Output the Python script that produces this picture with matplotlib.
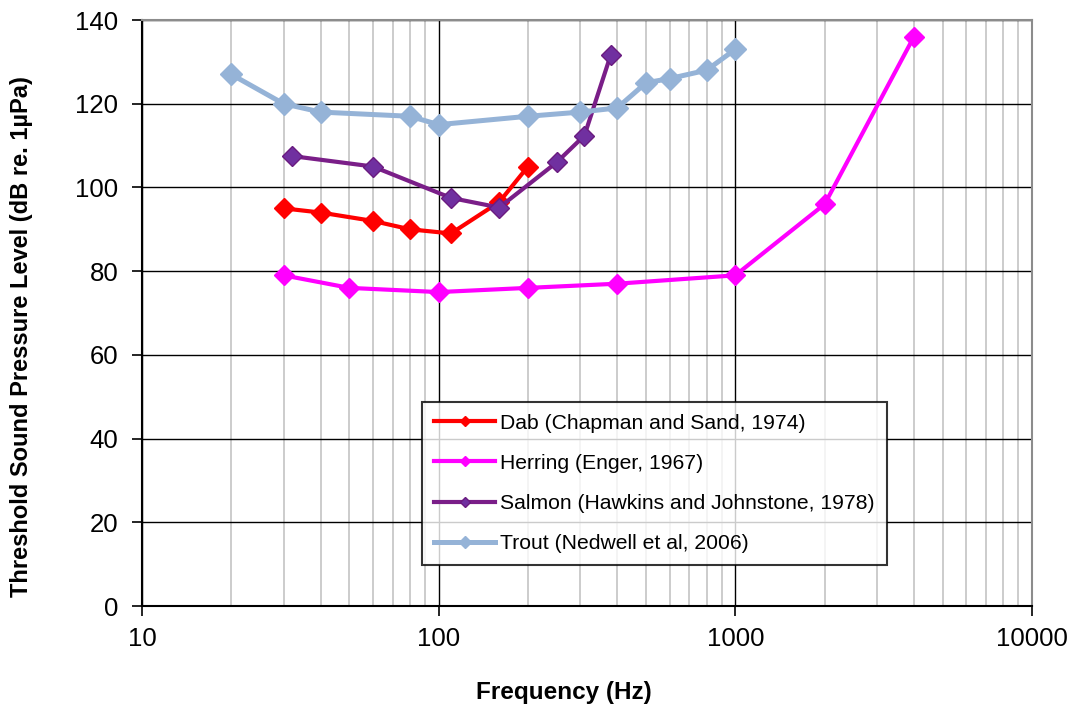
import matplotlib.pyplot as plt
import numpy as np
from matplotlib.ticker import NullFormatter, LogLocator

plt.rcParams['font.family'] = ['Liberation Sans', 'DejaVu Sans']

# data
dab_f = [30, 40, 60, 80, 110, 160, 200]
dab_db = [95, 94, 92, 90, 89, 96.5, 105]

herring_f = [30, 50, 100, 200, 400, 1000, 2000, 4000]
herring_db = [79, 76, 75, 76, 77, 79, 96, 136]

salmon_f = [32, 60, 110, 160, 250, 310, 380]
salmon_db = [107.5, 105, 97.5, 95.2, 106, 112.4, 131.6]

trout_f = [20, 30, 40, 80, 100, 200, 300, 400, 500, 600, 800, 1000]
trout_db = [127, 120, 118, 117, 115, 117, 118, 119, 125, 126, 128, 133]

fig = plt.figure(figsize=(10.72, 7.11), dpi=100)
ax = fig.add_axes([142/1072, 1 - 606/711, (1032 - 142)/1072, (606 - 20)/711])

ax.plot(dab_f, dab_db, color='#FF0000', lw=3, marker='D', ms=10,
        label='Dab (Chapman and Sand, 1974)')
ax.plot(herring_f, herring_db, color='#FF00FF', lw=3, marker='D', ms=10,
        label='Herring (Enger, 1967)')
ax.plot(salmon_f, salmon_db, color='#7A1E88', lw=3, marker='D', ms=10,
        mfc='#7030A0', mec='#6A1B80', label='Salmon (Hawkins and Johnstone, 1978)')
ax.plot(trout_f, trout_db, color='#95B3D7', lw=3.6, marker='D', ms=11,
        label='Trout (Nedwell et al, 2006)')

ax.set_xscale('log')
ax.set_xlim(10, 10000)
ax.set_ylim(0, 140)
ax.set_yticks(np.arange(0, 141, 20))
ax.set_xticks([10, 100, 1000, 10000])
ax.set_xticklabels(['10', '100', '1000', '10000'])
ax.xaxis.set_minor_locator(LogLocator(base=10, subs=np.arange(2, 10)))
ax.xaxis.set_minor_formatter(NullFormatter())

ax.grid(which='major', color='black', lw=1)
ax.grid(which='minor', axis='x', color='#C8C8C8', lw=1.3)
ax.set_axisbelow(True)

ax.tick_params(which='major', direction='out', length=7, width=1.2,
               labelsize=18.5)
ax.tick_params(axis='y', pad=10)
ax.tick_params(axis='x', pad=8)
ax.tick_params(which='minor', length=0)

for s in ['left', 'bottom']:
    ax.spines[s].set_color('black')
    ax.spines[s].set_linewidth(1.5)
for s in ['top', 'right']:
    ax.spines[s].set_color('#8C8C8C')
    ax.spines[s].set_linewidth(1.5)

ax.set_xlabel('Frequency (Hz)', fontsize=17.5, fontweight='bold')
ax.xaxis.set_label_coords(0.474, -0.128)
ax.set_ylabel('Threshold Sound Pressure Level (dB re. 1\u00b5Pa)', fontsize=17,
              fontweight='bold')
ax.yaxis.set_label_coords(-0.123, 0.46)

leg = ax.legend(loc='upper left', bbox_to_anchor=(0.315, 0.348), fontsize=15.2,
                frameon=True, fancybox=False, edgecolor='black',
                handlelength=2.9, handletextpad=0.25, labelspacing=1.0,
                borderpad=0.55, borderaxespad=0, markerscale=0.55)
leg.get_frame().set_linewidth(1.5)

fig.savefig('out.png', dpi=100)
